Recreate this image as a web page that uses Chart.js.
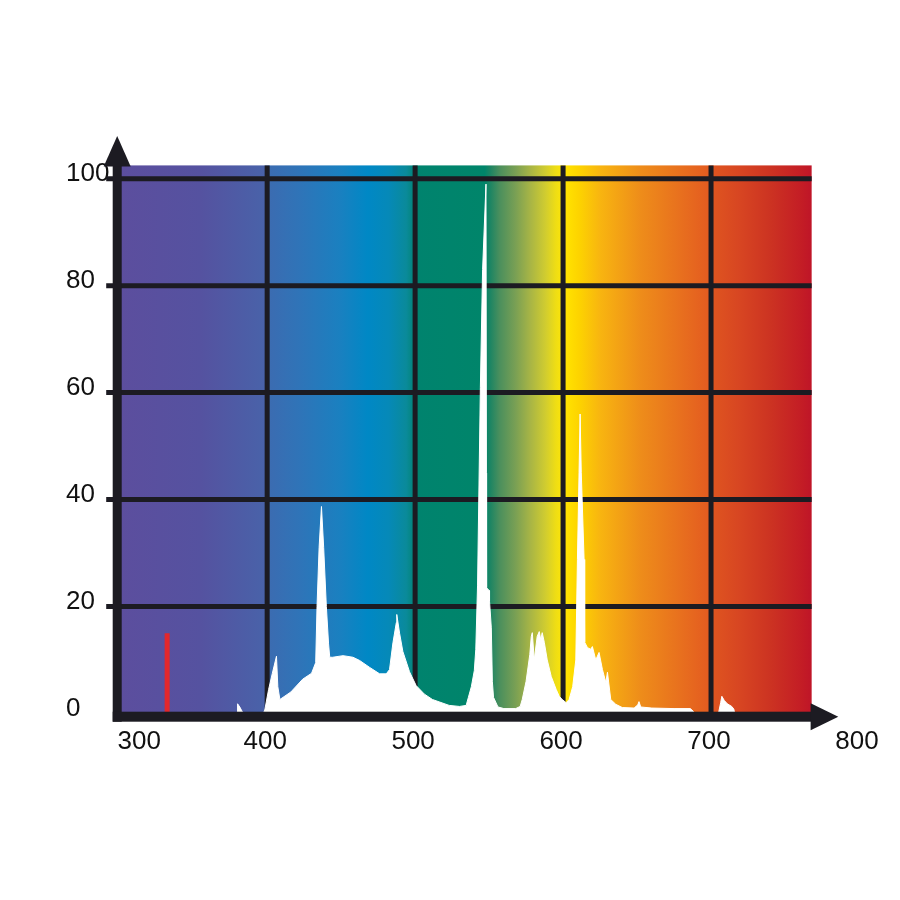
<!DOCTYPE html>
<html>
<head>
    <title>Lamp Spectrum</title>
    <script src="https://cdn.jsdelivr.net/npm/chart.js"></script>
    <style>
        body { margin: 0; background: #fff; }
    </style>
</head>
<body>
    <canvas id="spectrumChart" width="900" height="900"></canvas>
    <script>
        // spectrum (nm, relative intensity)
        const wavelengths = [
            300, 379.8, 380, 381.5, 383.8, 397.5, 398.5, 401, 403.5, 406.3, 407.2, 408.6,
            416, 424, 430, 432.8, 433.7, 435.1, 436.7, 438.2, 440, 441.5, 442.3, 444.3,
            451.3, 458, 462.5, 469.3, 476, 480.5, 482.7, 485, 487.3, 487.6, 489.5, 491.7,
            496.2, 500.7, 506.3, 511.7, 523, 530, 534.5, 536, 538, 540, 541, 542.2,
            544.1, 545.6, 547.9, 548.2, 548.3, 550, 550.3, 551.5, 552.2, 553, 556, 560,
            568, 571, 572.4, 575, 577.5, 578.5, 579.2, 580.5, 582.5, 583.9, 584.9, 585.9,
            587.3, 589.3, 592, 595.3, 597.4, 599.4, 602.1, 604.1, 606.5, 608.6, 609.7, 610.8,
            611.5, 612.3, 614.2, 614.6, 616.5, 618.7, 619.8, 622.1, 624.3, 626.6, 628.9, 630,
            632.2, 635.6, 640, 648, 650.5, 651.3, 652.5, 660, 675, 686, 688, 689,
            705, 706.5, 707.3, 709, 711, 714, 715.4, 716, 768
        ];
        const intensity = [
            0, 0, 1.8, 1.2, 0, 0, 0.8, 4.5, 7.5, 10.7, 5, 2.6,
            4, 6.4, 7.5, 9.5, 20, 31, 38.7, 31, 20, 13, 10.5, 10.5,
            10.8, 10.5, 9.9, 8.6, 7.4, 7.4, 8.2, 13.2, 17, 18.5, 15, 11.6,
            7.8, 5.2, 3.6, 2.6, 1.5, 1.3, 1.5, 3, 5, 8, 12, 24,
            61, 83, 99, 45, 23.5, 23, 21, 16, 6, 3, 1.2, 0.9,
            0.9, 1.3, 2.6, 6, 11, 14.4, 15.1, 10, 14.4, 15.3, 13.8, 15.1,
            13.3, 10, 6.9, 4.5, 3.2, 2.6, 2, 2.6, 5, 10, 28.8, 45,
            56, 45, 28.8, 13.3, 12.3, 12, 12.5, 10, 11.4, 8.2, 5.8, 7.7,
            2.6, 1.7, 1.1, 1, 1.6, 2.2, 1.2, 1, 0.9, 0.9, 0.4, 0,
            0, 2, 3.2, 2.4, 1.8, 1.3, 0.8, 0, 0
        ];
        const markerWavelength = [332.4, 332.4];
        const markerIntensity = [0, 15];
        const xTicks = [300, 400, 500, 600, 700, 800];
        const yTicks = [0, 20, 40, 60, 80, 100];

        // colour of the visible spectrum behind the plot
        const spectrumStops = [
            [300, '#5c4e9e'], [355, '#5552a0'], [398, '#4962a9'], [402, '#3b6cb1'],
            [422, '#2f74b8'], [449, '#1a80c0'], [468, '#0088c5'], [482, '#0589b8'],
            [494, '#0a8a9a'], [501, '#00836e'], [547, '#00856a'], [551, '#1e8563'],
            [557, '#4a8f5d'], [568, '#7aa054'], [578, '#a8b545'], [588, '#d0cc30'],
            [595, '#eedd15'], [599, '#fae40a'], [603, '#ffe100'], [611, '#fdd300'],
            [625, '#f8b510'], [639, '#f3a015'], [652, '#ee8d1a'], [679, '#e8701e'],
            [697, '#e45d20'], [703, '#de5320'], [720, '#d74522'], [740, '#cc3322'],
            [760, '#c41e25'], [768, '#bf1528']
        ];
        const ink = '#1c1b22';
        const labelFont = '26px "Liberation Sans", Arial, sans-serif';

        const spectrumBackdrop = {
            id: 'spectrumBackdrop',
            beforeDatasetsDraw(chart) {
                const { ctx, scales: { x, y } } = chart;
                const left = x.getPixelForValue(300) - 2;
                const right = x.getPixelForValue(768);
                const top = y.getPixelForValue(102.5);
                const bottom = y.getPixelForValue(0);
                const grad = ctx.createLinearGradient(left, 0, right, 0);
                spectrumStops.forEach(([nm, c]) => {
                    const t = Math.min(1, Math.max(0, (x.getPixelForValue(nm) - left) / (right - left)));
                    grad.addColorStop(t, c);
                });
                ctx.save();
                ctx.fillStyle = grad;
                ctx.fillRect(left, top, right - left, bottom - top);
                ctx.strokeStyle = ink;
                ctx.lineWidth = 5;
                ctx.beginPath();
                yTicks.slice(1).forEach(v => {
                    const py = y.getPixelForValue(v);
                    ctx.moveTo(left - 11, py);
                    ctx.lineTo(right, py);
                });
                xTicks.filter(v => v > 300 && v < 768).forEach(v => {
                    const px = x.getPixelForValue(v);
                    ctx.moveTo(px, top);
                    ctx.lineTo(px, bottom);
                });
                ctx.stroke();
                ctx.restore();
            },
            afterDatasetsDraw(chart) {
                const { ctx, scales: { x, y } } = chart;
                const ax = x.getPixelForValue(300) - 2;
                const ay = y.getPixelForValue(0) + 3.3;
                const end = x.getPixelForValue(768);
                const tipX = x.getPixelForValue(786);
                const baseY = y.getPixelForValue(102.5);
                const tipY = y.getPixelForValue(108);
                ctx.save();
                ctx.fillStyle = ink;
                // axes
                ctx.fillRect(ax - 4.5, baseY - 4, 9, ay + 5 - baseY + 4);
                ctx.fillRect(ax - 4.5, ay - 5, end - ax + 4.5, 10);
                // arrow heads
                ctx.beginPath();
                ctx.moveTo(ax - 13.5, baseY + 1);
                ctx.lineTo(ax, tipY);
                ctx.lineTo(ax + 13.5, baseY + 1);
                ctx.closePath();
                ctx.fill();
                ctx.beginPath();
                ctx.moveTo(end - 1, ay - 13.5);
                ctx.lineTo(tipX, ay);
                ctx.lineTo(end - 1, ay + 13.5);
                ctx.closePath();
                ctx.fill();
                // x tick labels
                ctx.fillStyle = '#111';
                ctx.font = labelFont;
                ctx.textAlign = 'center';
                ctx.textBaseline = 'middle';
                xTicks.forEach((v, i) => {
                    ctx.fillText(String(v), x.getPixelForValue(v) + (i === 0 ? 20 : -2), ay + 25);
                });
                ctx.restore();
            }
        };

        const ctx = document.getElementById('spectrumChart').getContext('2d');
        new Chart(ctx, {
            type: 'line',
            data: {
                datasets: [{
                    data: wavelengths.map((w, i) => ({ x: w, y: intensity[i] })),
                    fill: 'origin',
                    backgroundColor: '#ffffff',
                    borderColor: '#ffffff',
                    borderWidth: 1,
                    pointRadius: 0,
                    tension: 0
                }, {
                    data: markerWavelength.map((w, i) => ({ x: w, y: markerIntensity[i] })),
                    fill: false,
                    borderColor: '#e2272c',
                    borderWidth: 5,
                    pointRadius: 0
                }]
            },
            options: {
                responsive: false,
                animation: false,
                layout: { padding: { left: 66, top: 136, right: 41, bottom: 186.6 } },
                plugins: { legend: { display: false }, tooltip: { enabled: false } },
                scales: {
                    x: { type: 'linear', min: 300, max: 800, display: false },
                    y: {
                        min: 0,
                        max: 108,
                        grid: { display: false },
                        border: { display: false },
                        afterBuildTicks: s => { s.ticks = yTicks.map(v => ({ value: v })); },
                        afterFit: s => { s.width = 53.2; },
                        ticks: {
                            font: { family: '"Liberation Sans", Arial, sans-serif', size: 26 },
                            color: '#111',
                            crossAlign: 'far',
                            labelOffset: -5,
                            padding: 0
                        }
                    }
                }
            },
            plugins: [spectrumBackdrop]
        });
    </script>
</body>
</html>
